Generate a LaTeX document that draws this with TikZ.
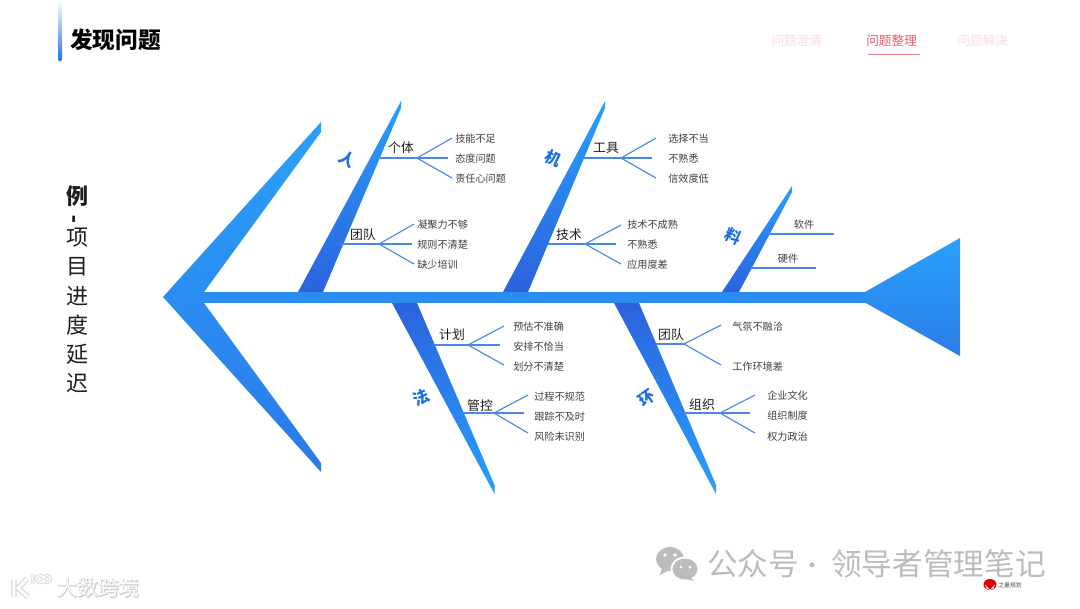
\documentclass[tikz,border=0pt]{standalone}
\usepackage{fontspec}
\setmainfont{Noto Sans CJK SC}
\newfontfamily\halofont[FakeBold=4]{Noto Sans CJK SC}
\usetikzlibrary{calc}
\definecolor{lightb}{HTML}{2AA0FA}
\definecolor{darkb}{HTML}{2B62DE}
\definecolor{spine}{HTML}{2B8CF0}
\definecolor{twig}{HTML}{4A88E8}
\definecolor{bonetxt}{HTML}{1C6FE0}
\definecolor{subtxt}{HTML}{404040}
\definecolor{maintxt}{HTML}{1E1E1E}
\definecolor{paleP}{HTML}{FBDDE3}
\definecolor{navred}{HTML}{E25D6E}
\definecolor{wm}{HTML}{BCBCBC}
\definecolor{accent}{HTML}{2A6FEF}
\newcommand{\fs}[1]{\fontsize{#1}{#1}\selectfont}
\tikzset{
  upgrad/.style={top color=lightb,middle color=lightb!55!darkb,bottom color=darkb,draw=none},
  downgrad/.style={top color=darkb,middle color=lightb!55!darkb,bottom color=lightb,draw=none},
  twigline/.style={draw=twig,line width=0.85pt},
  catlabel/.style={font=\fs{9.6},text=maintxt,inner sep=0pt,yshift=-0.5pt},
  leaflabel/.style={font=\fs{7.6},text=subtxt,inner sep=0pt,anchor=west,yshift=-0.3pt},
  bonelabel/.style={font=\fs{12}\bfseries,text=bonetxt,inner sep=0pt},
  sidelabel/.style={font=\fs{16.5},text=maintxt,inner sep=0pt},
  navlabel/.style={font=\fs{9.5},inner sep=0pt,anchor=west,yshift=-0.4pt},
  wmtext/.style={font=\fs{23},text=wm,inner sep=0pt,anchor=west},
}
\newcommand{\stem}[4]{%
  \coordinate (#1s) at (#2,#4);
  \coordinate (#1f) at (#3,#4);
  \draw[twigline] (#1s) -- (#1f);
}
\newcommand{\twig}[4]{%
  \coordinate (#1) at (#3,#4);
  \draw[twigline] (#2) -- (#1);
}
\begin{document}
\begin{tikzpicture}[x=0.75pt,y=-0.75pt]
\useasboundingbox (0,0) rectangle (1080,608);
\fill[white] (0,0) rectangle (1080,608);

% header
\shade[top color=white,bottom color=accent,draw=none,rounded corners=0.8pt] (58,0) rectangle (62,61);
\node[font=\fs{17}\bfseries,text=black,inner sep=0pt,anchor=west] (title) at (70,40) {发现问题};
\node[navlabel,text=paleP] (nav1) at (771,40) {问题澄清};
\node[navlabel,text=navred] (nav2) at (866,40) {问题整理};
\node[navlabel,text=paleP] (nav3) at (957,40) {问题解决};
\coordinate (ula) at (868,54.5);
\coordinate (ulb) at (920,54.5);
\draw[navred!80,line width=0.6pt] (ula) -- (ulb);

% side label
\node[sidelabel,font=\fs{16.5}\bfseries] (s0) at (77,196) {例};
\node[sidelabel,font=\fs{16.5}\bfseries,rotate=90] (s1) at (77,219) {-};
\node[sidelabel] (s2) at (77,238) {项};
\node[sidelabel] (s3) at (77,267) {目};
\node[sidelabel] (s4) at (77,296) {进};
\node[sidelabel] (s5) at (77,325) {度};
\node[sidelabel] (s6) at (77,354) {延};
\node[sidelabel] (s7) at (77,383) {迟};

% tail: a single vertical gradient across both blades
\shade[top color=lightb,middle color=spine,bottom color=spine!55!darkb,draw=none]
  (163,297) -- (321,122) -- (321,132) -- (204,292) -- (204,303) -- (321,463) -- (321,472) -- cycle;
% head
\shade[top color=lightb,middle color=spine,bottom color=spine!65!darkb,draw=none]
  (960,238) -- (960,356) -- (865,302.5) -- (865,292) -- cycle;
% spine
\fill[spine] (200,292) rectangle (866,302.5);

% bones
\shade[upgrad] (298,292) -- (401,101) -- (401,108) -- (323,292) -- cycle;
\shade[upgrad] (503,292) -- (605,101) -- (605,108) -- (528,292) -- cycle;
\shade[upgrad] (722,292) -- (792,186) -- (792,192) -- (739,292) -- cycle;
\shade[downgrad] (392,303) -- (417,303) -- (494.5,485) -- (494.5,494) -- cycle;
\shade[downgrad] (614,303) -- (639,303) -- (716,485) -- (716,494) -- cycle;

% bone labels
\node[bonelabel,rotate=-30] (b1) at (347,159) {人};
\node[bonelabel,rotate=-25] (b2) at (553,158) {机};
\node[bonelabel,rotate=-25] (b3) at (733,236) {料};
\node[bonelabel,rotate=25] (b4) at (421,398) {法};
\node[bonelabel,rotate=35] (b5) at (647,398) {环};

% person / individual
\stem{a}{378}{417}{158}
\twig{a1}{af}{452}{138}\twig{a2}{af}{448}{158}\twig{a3}{af}{452}{178}
\node[catlabel] (ca) at (401,147) {个体};
\node[leaflabel] (la1) at (455,138) {技能不足};
\node[leaflabel] (la2) at (455,158) {态度问题};
\node[leaflabel] (la3) at (455,178) {责任心问题};
% person / team
\stem{c}{342}{379}{244}
\twig{c1}{cf}{414}{224}\twig{c2}{cf}{412}{244}\twig{c3}{cf}{414}{264}
\node[catlabel] (cc) at (363,234) {团队};
\node[leaflabel] (lc1) at (417,224) {凝聚力不够};
\node[leaflabel] (lc2) at (417,244) {规则不清楚};
\node[leaflabel] (lc3) at (417,264) {缺少培训};
% machine / tools
\stem{d}{583}{621}{158}
\twig{d1}{df}{656}{138}\twig{d2}{df}{652}{158}\twig{d3}{df}{656}{178}
\node[catlabel] (cd) at (606,147) {工具};
\node[leaflabel] (ld1) at (668,138) {选择不当};
\node[leaflabel] (ld2) at (668,158) {不熟悉};
\node[leaflabel] (ld3) at (668,178) {信效度低};
% machine / tech
\stem{e}{548}{585}{244}
\twig{e1}{ef}{621}{225}\twig{e2}{ef}{616}{244}\twig{e3}{ef}{621}{264}
\node[catlabel] (ce) at (569,234) {技术};
\node[leaflabel] (le1) at (627,224) {技术不成熟};
\node[leaflabel] (le2) at (627,244) {不熟悉};
\node[leaflabel] (le3) at (627,264) {应用度差};
% material
\stem{g}{768}{834}{234}
\stem{h}{751}{816}{268}
\node[leaflabel,anchor=center] (lg) at (804,224) {软件};
\node[leaflabel,anchor=center] (lh) at (788,258) {硬件};
% method / plan
\stem{i}{434}{468}{345}
\twig{i1}{if}{504}{326}\twig{i2}{if}{500}{345}\twig{i3}{if}{504}{365}
\node[catlabel] (ci) at (452,334) {计划};
\node[leaflabel] (li1) at (513,326) {预估不准确};
\node[leaflabel] (li2) at (513,346) {安排不恰当};
\node[leaflabel] (li3) at (513,366) {划分不清楚};
% method / control
\stem{j}{463}{494}{413}
\twig{j1}{jf}{528}{395}\twig{j2}{jf}{524}{413}\twig{j3}{jf}{528}{433}
\node[catlabel] (cj) at (480,405) {管控};
\node[leaflabel] (lj1) at (534,396) {过程不规范};
\node[leaflabel] (lj2) at (534,416) {跟踪不及时};
\node[leaflabel] (lj3) at (534,436) {风险未识别};
% environment / team
\stem{k}{656}{684}{344}
\twig{k1}{kf}{721}{325}\twig{k3}{kf}{721}{365}
\node[catlabel] (ck) at (671,334) {团队};
\node[leaflabel] (lk1) at (732,326) {气氛不融洽};
\node[leaflabel] (lk3) at (732,366) {工作环境差};
% environment / organisation
\stem{m}{684}{720}{413}
\twig{m1}{mf}{755}{395}\twig{m2}{mf}{750}{413}\twig{m3}{mf}{755}{433}
\node[catlabel] (cm) at (702,404) {组织};
\node[leaflabel] (lm1) at (767,395) {企业文化};
\node[leaflabel] (lm2) at (767,415) {组织制度};
\node[leaflabel] (lm3) at (767,436) {权力政治};

% watermark right
\fill[wm] (670,559) ellipse [x radius=14,y radius=12];
\fill[wm] (662,568) -- (660,575) -- (669,570) -- cycle;
\fill[white] (685,569) ellipse [x radius=14.5,y radius=12.5];
\fill[wm] (685,569) ellipse [x radius=12.5,y radius=10.5];
\fill[wm] (690,577) -- (694,581) -- (686,579) -- cycle;
\fill[white] (665,555) circle (1.8) (675,555) circle (1.8) (681,567) circle (1.5) (690,567) circle (1.5);
\node[wmtext] (wm1) at (707,564) {公众号};
\node[wmtext,font=\fs{18}] (wmd) at (800,569) {·};
\node[wmtext] (wm2) at (831,564) {领导者管理笔记};
% tiny logo
\fill[red!85!black] (990,584.5) ellipse [x radius=6.5,y radius=5.5];
\draw[white,line width=0.5pt] (985.5,585) arc (180:0:4.5) (987.5,587) arc (180:0:2.5);
\node[font=\fs{4.4},text=black!70,inner sep=0pt,anchor=west] (wm3) at (998,585) {之量规划};

% watermark left: white text on a soft grey halo
\node[font=\fs{15.5}\halofont,text=black!20,inner sep=0pt,anchor=west] (wm4h) at (57,588) {大数跨境};
\node[font=\fs{15.5},text=white,inner sep=0pt,anchor=west] (wm4) at (57,588) {大数跨境};
\draw[black!16,line width=4pt] (14,580)--(14,597) (27,579)--(18,588)--(28,597);
\draw[black!16,line width=2.4pt] (33,574)--(33,584) (40,579) circle (3.6) (47,579) circle (3.6);
\draw[white,line width=2.2pt] (14,580)--(14,597) (27,579)--(18,588)--(28,597);
\draw[white,line width=1pt] (33,574)--(33,584) (40,579) circle (3.6) (47,579) circle (3.6);
\end{tikzpicture}
\end{document}
